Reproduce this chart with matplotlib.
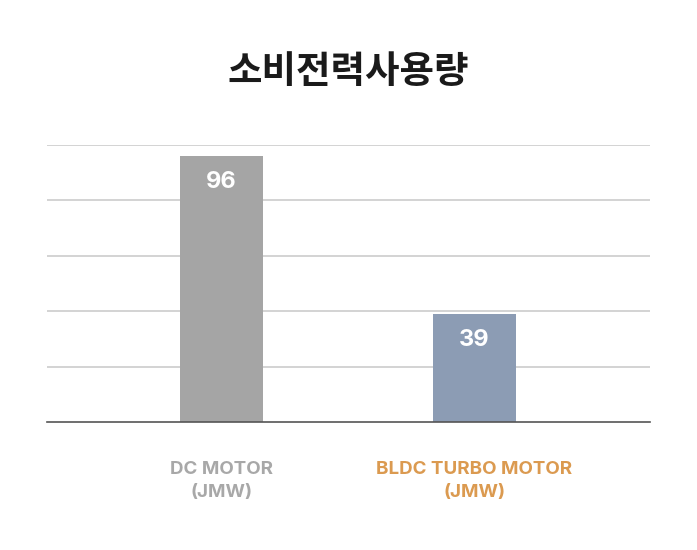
import matplotlib.pyplot as plt

plt.rcParams['font.family'] = ['Noto Sans CJK KR', 'DejaVu Sans']
latin = ['Inter', 'Noto Sans CJK KR']

# Data
categories = ['DC MOTOR\n(JMW)', 'BLDC TURBO MOTOR\n(JMW)']
values = [96, 39]
bar_colors = ['#a5a5a5', '#8c9cb4']
label_colors = ['#a8a8a8', '#db9a50']
title = '소비전력사용량'

fig = plt.figure(figsize=(6.97, 5.5), dpi=100)
ax = fig.add_axes([47 / 697, 1 - 422 / 550, 603 / 697, (422 - 144.7) / 550])

x = range(len(values))
bars = ax.bar(x, values, width=0.328, color=bar_colors, zorder=3)

ax.set_xlim(-0.69, 1.694)
ax.set_ylim(0, 100)
ax.set_yticks([20, 40, 60, 80, 100])
ax.yaxis.grid(True, color='#c8c8c8', lw=1.1, zorder=0)
ax.tick_params(axis='both', length=0, labelleft=False, labelbottom=False)
for s in ['top', 'right', 'left']:
    ax.spines[s].set_visible(False)
ax.spines['bottom'].set_color('#555555')
ax.spines['bottom'].set_linewidth(1.2)
ax.spines['bottom'].set_zorder(4)

# value labels inside bars
for b, v in zip(bars, values):
    ax.text(b.get_x() + b.get_width() / 2, v - 9.5, str(v), ha='center', va='center',
            color='white', fontsize=17, fontweight='bold', family=latin, zorder=5)

# category labels under the axis
for i, (lab, c) in enumerate(zip(categories, label_colors)):
    ax.annotate(lab, xy=(i, 0), xycoords='data', xytext=(0, -28), textcoords='offset points',
                ha='center', va='top', color=c, fontsize=13.5, fontweight='bold',
                family=latin, linespacing=1.5)

fig.text(348 / 697, 1 - 72 / 550, title, ha='center', va='center',
         fontsize=27, fontweight='bold', color='#1a1a1a')

fig.savefig('out.png', dpi=100, facecolor='white')
